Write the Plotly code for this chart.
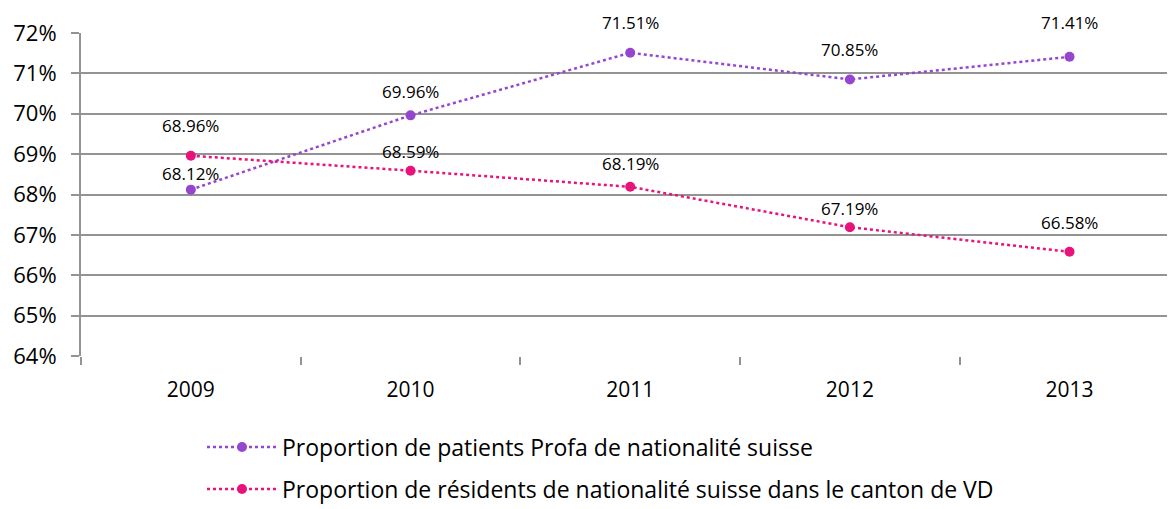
import plotly.graph_objects as go

years = ["2009", "2010", "2011", "2012", "2013"]
profa = [68.12, 69.96, 71.51, 70.85, 71.41]
vaud = [68.96, 68.59, 68.19, 67.19, 66.58]
name_profa = "Proportion de patients Profa de nationalité suisse"
name_vaud = "Proportion de résidents de nationalité suisse dans le canton de VD"
y_ticks = [64, 65, 66, 67, 68, 69, 70, 71, 72]

# label offsets (pixels above point)
off_profa = [16, 24, 30, 30, 34]
off_vaud = [30, 19, 23, 19, 29]

PURPLE = "#9646CE"
PINK = "#E8137A"
GRID = "#939393"
FONT = "Open Sans"

fig = go.Figure()
fig.add_trace(go.Scatter(x=years, y=profa, name=name_profa, mode="lines+markers",
                         line=dict(color=PURPLE, width=2.5, dash="dot"),
                         marker=dict(color=PURPLE, size=10), legendgroup="a", cliponaxis=False))
fig.add_trace(go.Scatter(x=years, y=vaud, name=name_vaud, mode="lines+markers",
                         line=dict(color=PINK, width=2.5, dash="dot"),
                         marker=dict(color=PINK, size=10), legendgroup="b", cliponaxis=False))

for vals, offs in ((profa, off_profa), (vaud, off_vaud)):
    for i, (v, o) in enumerate(zip(vals, offs)):
        fig.add_annotation(x=i, y=v, xref="x", yref="y", text=f"{v:.2f}%",
                           showarrow=False, yshift=o,
                           xanchor="center", yanchor="middle",
                           font=dict(family=FONT, size=17, color="#000"))

fig.update_layout(
    width=1167, height=501,
    margin=dict(l=73, r=0, t=25, b=153, autoexpand=False),
    paper_bgcolor="white", plot_bgcolor="white",
    font=dict(family=FONT, color="#000"),
    showlegend=True,
    legend=dict(x=(202 - 81) / 1094, y=-0.2 - 5 / 323, xanchor="left", yanchor="top",
                font=dict(family=FONT, size=23), tracegroupgap=9,
                itemwidth=70, bgcolor="rgba(0,0,0,0)"),
    xaxis=dict(type="category", range=[-0.5, 4.48], tickson="boundaries",
               ticks="outside", ticklen=8, tickcolor=GRID, tickwidth=2,
               showgrid=False, showline=False, zeroline=False, automargin=False,
               ticklabelstandoff=19,
               tickfont=dict(family=FONT, size=21)),
    yaxis=dict(range=[64, 72], tickvals=y_ticks, ticktext=[f"{t}%" for t in y_ticks],
               ticks="outside", ticklen=8, tickcolor=GRID, tickwidth=2,
               showgrid=True, gridcolor=GRID, gridwidth=2, automargin=False,
               showline=True, linecolor=GRID, linewidth=2, zeroline=False,
               ticklabelstandoff=10,
               tickfont=dict(family=FONT, size=22)),
)

fig.write_html("out.html")
